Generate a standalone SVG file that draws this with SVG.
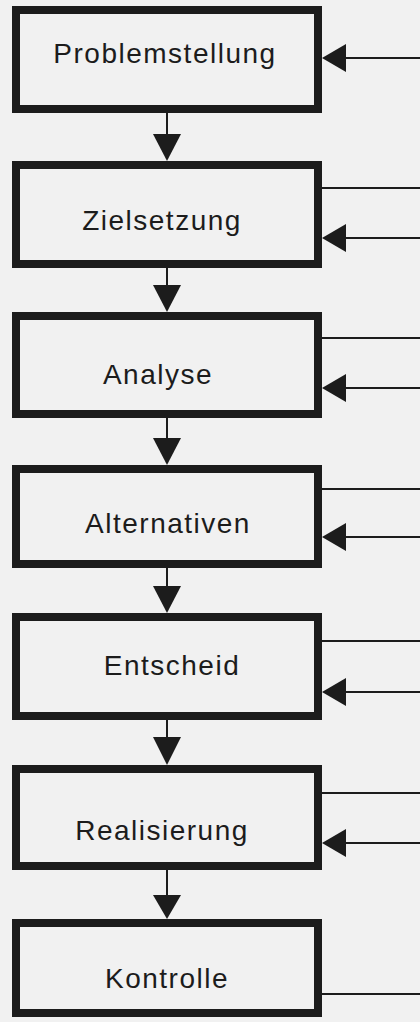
<svg xmlns="http://www.w3.org/2000/svg" width="420" height="1022" viewBox="0 0 420 1022">
  <style>
    .box { fill: none; stroke: #1c1c1c; stroke-width: 8; }
    .lbl { font-family: "Liberation Sans", Arial, sans-serif; font-size: 28px; letter-spacing: 1.5px; fill: #1c1c1c; text-anchor: middle; }
    .ln { stroke: #1c1c1c; stroke-width: 2; fill: none; }
    .ah { fill: #1c1c1c; }
  </style>
  <rect x="0" y="0" width="420" height="1022" fill="#f1f1f1"/>

  <g id="connectors">
    <!-- downward arrows -->
    <line class="ln" x1="167" y1="113" x2="167" y2="140"/>
    <polygon class="ah" points="153,134 181,134 167,161"/>
    <line class="ln" x1="167" y1="268" x2="167" y2="290"/>
    <polygon class="ah" points="153,285 181,285 167,312"/>
    <line class="ln" x1="167" y1="418" x2="167" y2="443"/>
    <polygon class="ah" points="153,438 181,438 167,465"/>
    <line class="ln" x1="167" y1="568" x2="167" y2="591"/>
    <polygon class="ah" points="153,586 181,586 167,613"/>
    <line class="ln" x1="167" y1="720" x2="167" y2="742"/>
    <polygon class="ah" points="153,737 181,737 167,765"/>
    <line class="ln" x1="167" y1="870" x2="167" y2="900"/>
    <polygon class="ah" points="153,895 181,895 167,919"/>

    <!-- incoming arrows from the right -->
    <line class="ln" x1="340" y1="58" x2="420" y2="58"/>
    <polygon class="ah" points="322,58 346,44 346,72"/>
    <line class="ln" x1="340" y1="238" x2="420" y2="238"/>
    <polygon class="ah" points="322,238 346,224 346,252"/>
    <line class="ln" x1="340" y1="388" x2="420" y2="388"/>
    <polygon class="ah" points="322,388 346,374 346,402"/>
    <line class="ln" x1="340" y1="537" x2="420" y2="537"/>
    <polygon class="ah" points="322,537 346,523 346,551"/>
    <line class="ln" x1="340" y1="692" x2="420" y2="692"/>
    <polygon class="ah" points="322,692 346,678 346,706"/>
    <line class="ln" x1="340" y1="843" x2="420" y2="843"/>
    <polygon class="ah" points="322,843 346,829 346,857"/>

    <!-- outgoing lines to the right -->
    <line class="ln" x1="320" y1="188" x2="420" y2="188"/>
    <line class="ln" x1="320" y1="338" x2="420" y2="338"/>
    <line class="ln" x1="320" y1="489" x2="420" y2="489"/>
    <line class="ln" x1="320" y1="641" x2="420" y2="641"/>
    <line class="ln" x1="320" y1="793" x2="420" y2="793"/>
    <line class="ln" x1="320" y1="994" x2="420" y2="994"/>
  </g>

  <g id="problemstellung">
    <rect class="box" x="16" y="10" width="302" height="99"/>
    <text class="lbl" x="165" y="63">Problemstellung</text>
  </g>
  <g id="zielsetzung">
    <rect class="box" x="16" y="165" width="302" height="99"/>
    <text class="lbl" x="162" y="230">Zielsetzung</text>
  </g>
  <g id="analyse">
    <rect class="box" x="16" y="316" width="302" height="98"/>
    <text class="lbl" x="158" y="384">Analyse</text>
  </g>
  <g id="alternativen">
    <rect class="box" x="16" y="469" width="302" height="95"/>
    <text class="lbl" x="168" y="533">Alternativen</text>
  </g>
  <g id="entscheid">
    <rect class="box" x="16" y="617" width="302" height="99"/>
    <text class="lbl" x="172" y="675">Entscheid</text>
  </g>
  <g id="realisierung">
    <rect class="box" x="16" y="769" width="302" height="97"/>
    <text class="lbl" x="162" y="840">Realisierung</text>
  </g>
  <g id="kontrolle">
    <rect class="box" x="16" y="923" width="302" height="90"/>
    <text class="lbl" x="167" y="988">Kontrolle</text>
  </g>
</svg>
